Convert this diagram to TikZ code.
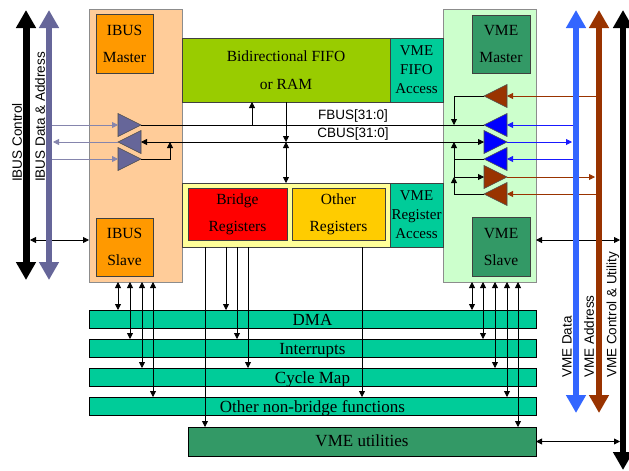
\documentclass[tikz,border=0pt]{standalone}
\definecolor{ibusPeach}{RGB}{255,204,153}
\definecolor{ibusOrange}{RGB}{255,153,0}
\definecolor{fifoGreen}{RGB}{153,204,0}
\definecolor{accTeal}{RGB}{0,204,153}
\definecolor{regYellow}{RGB}{255,255,153}
\definecolor{regGold}{RGB}{255,204,0}
\definecolor{vmeMint}{RGB}{204,255,204}
\definecolor{vmeGreen}{RGB}{51,153,102}
\definecolor{ibusSlate}{RGB}{102,102,153}
\definecolor{vmeBlue}{RGB}{51,102,255}
\definecolor{vmeBrown}{RGB}{153,51,0}
\usepackage{fontspec}
\setmainfont{Liberation Serif}
\setsansfont{Liberation Sans}
\usepackage{tikz}
\usetikzlibrary{positioning, arrows.meta}

\begin{document}
\begin{tikzpicture}[
    x=1pt, y=-1pt,
    blk/.style={rectangle, draw=black!75, line width=0.7pt, inner sep=0pt, outer sep=0pt,
                align=center, font=\fontsize{15.5}{27}\selectfont},
    acc/.style={blk, fill=accTeal, minimum width=53pt, minimum height=64pt,
                font=\fontsize{15}{19}\selectfont},
    fn/.style={rectangle, draw=black, line width=0.7pt, fill=accTeal, inner sep=0pt, outer sep=0pt,
               minimum width=447pt, minimum height=18pt, text height=13pt, text depth=1pt,
               font=\fontsize{17}{20}\selectfont},
    buf/.style={rectangle, minimum width=23pt, minimum height=23pt, inner sep=0pt, outer sep=0pt},
    tri/.style={draw=black!70, line width=0.6pt},
    wire/.style={line width=0.8pt},
    sig/.style={wire, -{Triangle[length=6pt,width=6pt]}},
    sigboth/.style={wire, {Triangle[length=6pt,width=6pt]}-{Triangle[length=6pt,width=6pt]}},
    bus/.style={line width=6pt, {Triangle[length=18pt,width=19pt]}-{Triangle[length=18pt,width=19pt]}},
    lbl/.style={font=\sffamily\fontsize{13.5}{16}\selectfont, inner sep=0pt},
    vlbl/.style={lbl, rotate=90, anchor=west},
  ]
    \useasboundingbox (0,0) rectangle (629,471);

    \node[blk, fill=ibusPeach, draw=black!45, minimum width=93pt, minimum height=273pt] (ibus) at (135.5,145.5) {};
    \node[blk, fill=ibusOrange, minimum width=57pt, minimum height=59pt] (imaster) at (124.5,43.5) {IBUS\\Master};
    \node[blk, fill=ibusOrange, minimum width=57pt, minimum height=58pt] (islave) at (124.5,247) {IBUS\\Slave};

    \node[blk, fill=vmeMint, draw=black!45, minimum width=93pt, minimum height=273pt] (vme) at (489.5,145.5) {};
    \node[blk, fill=vmeGreen, minimum width=58pt, minimum height=58pt] (vmaster) at (501,44) {VME\\Master};
    \node[blk, fill=vmeGreen, minimum width=58pt, minimum height=59pt] (vslave) at (501,246.5) {VME\\Slave};

    \node[blk, fill=fifoGreen, minimum width=208pt, minimum height=64pt,
          font=\fontsize{15.5}{28}\selectfont] (fifo) at (286,70) {Bidirectional FIFO\\or RAM};
    \node[acc, right=0pt of fifo] (fifoacc) {VME\\FIFO\\Access};
    \node[blk, fill=regYellow, minimum width=208pt, minimum height=64pt] (regs) at (286,215) {};
    \node[blk, fill=red, minimum width=99pt, minimum height=52pt] (bridge) at (237.5,214) {Bridge\\Registers};
    \node[blk, fill=regGold, minimum width=93pt, minimum height=52pt] (otherreg) at (338.5,214) {Other\\Registers};
    \node[acc, right=0pt of regs] (regacc) {VME\\Register\\Access};

    \node[fn] (dma) at (312.5,319) {DMA};
    \node[fn, below=11pt of dma] (irq) {Interrupts};
    \node[fn, below=11pt of irq] (cmap) {Cycle Map};
    \node[fn, below=11pt of cmap] (other) {Other non-bridge functions};
    \node[fn, fill=vmeGreen, minimum width=348pt, minimum height=29pt, text height=14pt, text depth=4pt,
          below=12pt of other.south east, anchor=north east] (vmeu) {VME utilities};

    \node[buf] (ib1) at (129.5,125) {};
    \node[buf] (ib2) at (129.5,142) {};
    \node[buf] (ib3) at (129.5,159) {};
    \node[buf] (vr1) at (495.5,96) {};
    \node[buf] (vb1) at (495.5,125) {};
    \node[buf] (vb2) at (495.5,142) {};
    \node[buf] (vb3) at (495.5,159) {};
    \node[buf] (vr2) at (495.5,177) {};
    \node[buf] (vr3) at (495.5,194) {};
    \foreach \n/\c in {ib1/ibusSlate, ib3/ibusSlate, vb2/blue, vr2/vmeBrown}
      \filldraw[tri, fill=\c] (\n.north west) -- (\n.east) -- (\n.south west) -- cycle;
    \foreach \n/\c in {ib2/ibusSlate, vr1/vmeBrown, vb1/blue, vb3/blue, vr3/vmeBrown}
      \filldraw[tri, fill=\c] (\n.north east) -- (\n.west) -- (\n.south east) -- cycle;

    \coordinate (ictlT) at (26,10);
    \coordinate (ictlB) at (26,280);
    \coordinate (idaT) at (49,10);
    \coordinate (idaB) at (49,280);
    \coordinate (vdatT) at (576,10);
    \coordinate (vdatB) at (576,413);
    \coordinate (vadrT) at (599,10);
    \coordinate (vadrB) at (599,413);
    \coordinate (vctlT) at (623,10);
    \coordinate (vctlB) at (623,470);

    \draw[wire] (ib1.east) -- (vb1.west);
    \draw[sigboth] (ib2.east) -- (vb2.west);
    \node[lbl] (fbuslbl) at (353,116) {FBUS[31:0]};
    \node[lbl] (cbuslbl) at (353,134) {CBUS[31:0]};

    \coordinate (ijoin) at (170,142);
    \draw[sig] (ib3.east) -| (ijoin);
    \coordinate (fifoin) at (252,125);
    \draw[sig] (fifoin) -- (fifoin |- fifo.south);
    \coordinate (fifoout) at (286,142);
    \draw[sig] (fifoout |- fifo.south) -- (fifoout);
    \draw[sigboth] (fifoout) -- (fifoout |- regs.north);

    \coordinate (vjoinF) at (454,125);
    \coordinate (vjoinC) at (454,142);
    \coordinate (vjoinA) at (454,177);
    \draw[sig] (vr1.west) -| (vjoinF);
    \draw[sig] (vb3.west) -| (vjoinC);
    \draw[wire] (vjoinA |- vb3.west) -- (vjoinA);
    \draw[sig] (vr3.west) -| (vjoinA);
    \draw[sig] (vjoinA) -- (vr2.west);

    \draw[sig, ibusSlate!80] (idaT |- ib1.west) -- (ib1.west);
    \draw[sig, ibusSlate!80] (ib2.west) -- ([xshift=4pt]idaT |- ib2.west);
    \draw[sig, ibusSlate!80] (idaT |- ib3.west) -- (ib3.west);
    \draw[sig, blue!90] (vdatT |- vb1.east) -- (vb1.east);
    \draw[sig, blue!90] (vb2.east) -- ([xshift=-4pt]vdatT |- vb2.east);
    \draw[sig, blue!90] (vdatT |- vb3.east) -- (vb3.east);
    \draw[sig, vmeBrown] (vadrT |- vr1.east) -- (vr1.east);
    \draw[sig, vmeBrown] (vr2.east) -- ([xshift=-4pt]vadrT |- vr2.east);
    \draw[sig, vmeBrown] (vadrT |- vr3.east) -- (vr3.east);

    \coordinate (islv) at (30,240);
    \draw[sigboth] (islv) -- (islv -| ibus.west);
    \coordinate (vslv) at (620,240);
    \draw[sigboth] (vslv -| vme.east) -- (vslv);
    \draw[sigboth] (vmeu.east) -- (vmeu.east -| vslv);

    \foreach \x/\f in {118/dma, 130/irq, 142/cmap, 153/other}
      \draw[sigboth] (\x,0 |- ibus.south) -- (\x,0 |- \f.north);
    \foreach \x/\f in {472/dma, 483/irq, 495/cmap, 507/other, 518/vmeu}
      \draw[sigboth] (\x,0 |- vme.south) -- (\x,0 |- \f.north);
    \foreach \x/\f in {205/vmeu, 226/dma, 237/irq, 248/cmap, 362/other}
      \draw[sig] (\x,0 |- regs.south) -- (\x,0 |- \f.north);

    \draw[bus, line width=7pt] (ictlT) -- (ictlB);
    \draw[bus, ibusSlate] (idaT) -- (idaB);
    \draw[bus, vmeBlue] (vdatT) -- (vdatB);
    \draw[bus, vmeBrown] (vadrT) -- (vadrB);
    \draw[bus] (vctlT) -- (vctlB);

    \node[vlbl] (ictllbl) at (17,182) {IBUS Control};
    \node[vlbl] (idalbl) at (40,182) {IBUS Data \& Address};
    \node[vlbl] (vdatlbl) at (567,378) {VME Data};
    \node[vlbl] (vadrlbl) at (589,378) {VME Address};
    \node[vlbl] (vctllbl) at (613,378) {VME Control \& Utility};
  \end{tikzpicture}
\end{document}
